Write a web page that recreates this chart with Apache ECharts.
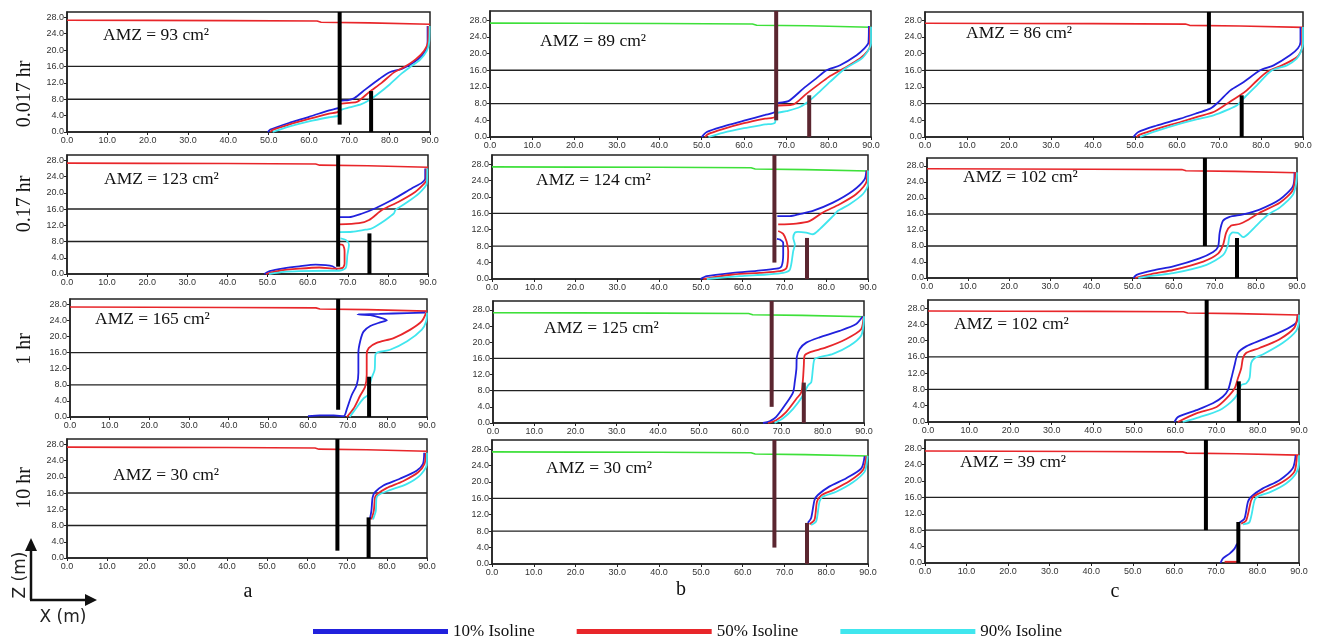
<!DOCTYPE html>
<html><head><meta charset="utf-8">
<script src="https://cdn.jsdelivr.net/npm/echarts@6/dist/echarts.min.js"></script>
<style>html,body{margin:0;padding:0;background:#fff}#c{width:1320px;height:641px}</style>
</head><body><div id="c"></div>
<script>
// ---------- data ----------
const xTicks = [0,10,20,30,40,50,60,70,80,90];
const yTicks = [0,4,8,12,16,20,24,28];
const rowLabels = ['0.017 hr','0.17 hr','1 hr','10 hr'];
const colLabels = ['a','b','c'];
const amzValues = [[93,89,86],[123,124,102],[165,125,102],[30,30,39]];
const layerDepths = [8,16];
const wallX = [67.6, 75.4];
const wall1Bottom = [1.8, 4.0, 8.0];
const wall2Top = 10;
const waterTable = [[0,27.3],[20,27.25],[40,27.2],[62,27.1],[63,26.8],[75,26.65],[90,26.3]];
const isoNames = ['10% Isoline','50% Isoline','90% Isoline'];

// isolines: each is a list of segments
const a1_10 = [[[49.8,0],[50.4,0.6],[55,2.2],[60,3.7],[65,5.3],[67.5,6.0],[67.7,7.6],[69.8,7.8],[71.3,8.3],[74,10.4],[77.5,13],[80,14.6],[83,15.4],[86,17],[88,18.7],[89.2,20.5],[89.4,22.2],[89.4,25.9]]];
const a1_50 = [[[50.4,0],[51,0.5],[55,1.8],[60,3.2],[65,4.5],[67.4,5.0],[67.7,6.8],[70,7.1],[72,7.4],[75,9.8],[78,12],[81,14.5],[83.5,15.8],[86.5,17.8],[88.5,19.8],[89.5,22],[89.6,25.9]]];
const a1_90 = [[[51,0],[55,1.3],[60,2.6],[65,3.6],[67.4,4.0],[67.7,5.3],[70,6.0],[73,6.8],[75,7.8],[77,9.2],[80,11.6],[83,14.3],[85,15.8],[87.5,17.6],[89.2,19.8],[89.8,22],[89.9,25.9]]];

const b1_10 = [[[50,0],[51.2,1.2],[55,2.5],[60,3.9],[65,5.3],[67.3,6.0],[67.6,8],[70.5,8.6],[74,11.6],[77,14],[79.5,16],[82.7,17.2],[86.6,19.6],[88.5,21.3],[89.4,22.6],[89.5,26.6]]];
const b1_50 = [[[50.8,0],[51.5,0.7],[55,1.9],[60,3.3],[65,4.4],[67.3,4.8],[67.6,7.4],[71.7,7.8],[74.8,10.4],[77.5,12.5],[80,14.4],[83.5,16.4],[87.4,18.8],[89.2,20.6],[89.8,22],[89.8,26.4]]];
const b1_90 = [[[51.6,0],[55,1.0],[60,2.1],[65,3.0],[67.3,3.4],[67.6,5.6],[70,6.2],[73.2,7.2],[75.6,8.8],[78,11],[80.3,13.2],[83.9,16.4],[87.8,18.8],[89.5,21],[90,22.5],[90,26.4]]];

const c1_10 = [[[49.6,0],[50.8,1.2],[55,2.7],[60.8,4.4],[65,5.8],[67.9,6.8],[69.9,8.4],[72.7,11.2],[75.9,13.2],[79.8,16],[83,17.2],[86.9,19.6],[88.8,21.3],[89.4,22.8],[89.4,26.4]]];
const c1_50 = [[[50.4,0],[51,0.5],[55,1.9],[60.8,3.6],[65,4.9],[68.7,6],[71.9,8],[75,10],[76.6,11.2],[79,13.5],[81.4,15.6],[85,17.2],[88.6,19.2],[89.8,21.6],[89.8,26.4]]];
const c1_90 = [[[51.2,0],[55,1.4],[60.8,3.2],[65,4.3],[68.7,5.2],[72,6.5],[74.3,7.6],[76.2,9.6],[79,12.4],[82.6,16],[86.2,17.2],[88.5,18.8],[89.5,20.5],[90,22.4],[90,26.4]]];

const a2_10 = [[[49.2,0],[50.5,0.7],[54,1.4],[57.9,1.9],[62,2.3],[64.5,2.2],[66.2,1.9],[67.4,1.1]],[[67.8,14],[70.3,14],[73.6,14.9],[76.9,16.2],[81,18.2],[86,21.1],[88.5,22.5],[89.3,23.5],[89.3,26.0]]];
const a2_50 = [[[49.6,0],[53,0.8],[57.9,1.3],[62.9,1.6],[67,1.3],[68.7,1.5],[69.2,2.5],[69.2,5.5],[69.1,6.4],[68.7,7.2],[67.8,7.3]],[[67.8,12.2],[72.8,12.5],[75.3,13.3],[78.6,15.8],[82.7,17.8],[86.8,20.2],[88.8,22],[89.6,23.1],[89.6,26.0]]];
const a2_90 = [[[50.4,0],[54,0.5],[57.9,0.7],[65.3,0.8],[67.8,0.8],[69.5,1.5],[69.9,4.7],[70.3,7.2],[69.5,8.4],[68.2,8.8]],[[67.8,10.3],[71.1,10.4],[74.4,10.9],[75.7,11.1],[76.9,11.7],[79.4,13.3],[81.5,14.9],[81.9,15.8],[84.4,17.4],[87.7,19.8],[89.7,22.3],[89.8,26.0]]];

const b2_10 = [[[49.9,0],[51.4,0.7],[57.7,1.5],[63.3,2],[68.1,2.5],[69.3,3.1],[69.7,6],[69.7,8.8],[68.9,9.6],[68.2,9.8]],[[68.3,15.3],[71.3,15.3],[73.6,15.8],[76.8,16.6],[81.6,18.6],[86.4,21.5],[89.2,24.3],[89.6,26.4]]];
const b2_50 = [[[50.6,0],[57.7,1.1],[64.1,1.5],[68.9,1.9],[70.5,2.7],[70.9,6.8],[70.5,9.2],[69.7,11],[68.5,11.7]],[[68.5,13.3],[72.8,13.5],[76,14.1],[79.2,16.2],[83.2,18.2],[87.2,20.7],[89.7,23.9],[89.8,26.4]]];
const b2_90 = [[[51.4,0],[59.3,0.7],[65.7,1.1],[69.7,1.5],[71.3,2.3],[72.1,6.8],[72.5,8.4],[72.1,10],[72.5,11.3],[73.2,11.5],[75.2,11.3],[76.8,10.9],[78.4,12.1],[81.6,15.3],[82.8,16.6],[85.6,18.2],[88.8,20.7],[90,23.1],[90,26.4]]];

const c2_10 = [[[50.2,0],[51,0.8],[55,1.9],[59.9,2.9],[66.3,4.9],[69.6,6.5],[70.8,7.8],[71.2,11.4],[72,14.3],[73.6,15.3],[76.9,15.9],[80.9,17.1],[85.8,19.6],[89,22.9],[89.4,26.4]]];
const c2_50 = [[[50.6,0],[55,1.1],[59.9,2],[67.2,4.1],[70.8,6.1],[72,8.2],[72.8,11.4],[74,13.1],[76,13.5],[77.7,14.3],[80.9,16.3],[85.8,18.8],[89,22],[89.6,26.4]]];
const c2_90 = [[[51.4,0],[55,0.6],[59.9,1.2],[68,3.3],[72,5.7],[73.2,8.2],[73.6,10.6],[74.4,11.4],[75.6,11.3],[76.9,10.2],[78.1,11],[80.9,13.9],[83,15.9],[85.8,17.6],[89,20.8],[89.8,23.7],[90,26.4]]];

const a3_10 = [[[60,0.2],[63,0.4],[66.5,0.4],[69,0.2],[69.8,2],[71,5.4],[72.3,8],[72.7,11],[72.7,16],[73.2,19],[74,21.2],[75.7,22.6],[78.2,23.5],[79.9,24],[78.2,24.7],[75.7,25.3],[72.5,25.5],[78,25.6],[85,25.8],[89.6,25.9]]];
const a3_50 = [[[69.8,0],[71.5,2.1],[73.2,5.4],[74.4,7.5],[74.8,10.5],[74.8,15.5],[75.3,17.1],[77.3,18.4],[81.6,19.6],[85.8,21.7],[88.7,23.8],[89.8,25.9]]];
const a3_90 = [[[70.5,0],[72,2],[74,4.6],[75.3,5.6],[75.6,8],[76,9.6],[76.8,11.7],[77,15.5],[77.7,16.1],[80.7,16.7],[85,18.8],[88.7,21.7],[89.8,23.8],[90,25.9]]];

const b3_10 = [[[65.5,0],[67.1,0.4],[68.7,1.5],[71.1,4.8],[72.8,7.6],[73.2,10.1],[73.6,13.4],[73.7,16.3],[74.4,18.3],[76,19.9],[79.2,21.2],[84.1,22.8],[88.1,24.5],[89.7,26.4]]];
const b3_50 = [[[66.7,0],[68.7,0.7],[71.1,2.7],[73.6,6],[74.8,7.6],[75.2,10.9],[75.4,14.2],[75.6,16.7],[76.8,17.5],[80.8,18.7],[85.7,20.8],[89.3,23.2],[89.9,26.4]]];
const b3_90 = [[[68.3,0],[70.3,1.1],[72.8,3.5],[75.2,6.8],[76.4,9.3],[77.2,10.1],[77.6,13.4],[78,15.8],[79.2,16.3],[82.5,17.1],[86.5,19.1],[89.3,21.6],[89.9,24.5],[90,26.4]]];

const c3_10 = [[[59.8,0],[60.6,1.2],[65.1,2.9],[69.1,4.6],[71.5,6.2],[72.8,7.9],[73.6,10.8],[74.4,14.1],[75.2,17],[77.2,18.6],[81.2,20.3],[86.1,22.4],[89.3,24.4],[89.7,26.4]]];
const c3_50 = [[[60.6,0],[65.1,2.1],[70,3.7],[72.4,5.8],[74.4,8.3],[75.2,10.8],[76,13.3],[76.4,15.7],[77.2,17],[80.4,18.2],[85.2,20.3],[88.9,23.2],[89.7,26.4]]];
const c3_90 = [[[61.8,0],[65.9,1.2],[70.7,2.9],[73.6,5],[75.2,7],[76,9.1],[77.2,9.5],[78,10.8],[78.4,14.5],[79.2,15.7],[81.2,16.6],[86.1,19.5],[89.3,22.4],[90,24.9],[90,26.4]]];

const a4_10 = [[[75.7,9.5],[76.1,11.6],[76.4,14.9],[77,16.2],[79,17.8],[83.2,19.5],[87.4,21.5],[89,23.2],[89.3,25.9]]];
const a4_50 = [[[76.1,9.5],[76.7,11.6],[77,14.9],[77.5,15.7],[79.9,17.2],[84,18.9],[87.8,21.1],[89.4,23.2],[89.7,25.9]]];
const a4_90 = [[[76.5,9.5],[77.2,11.6],[77.4,14.9],[78.2,15.7],[80.7,16.7],[84.9,18.2],[88.2,20.3],[89.9,22.8],[90,25.9]]];

const b4_10 = [[[75.6,10],[76.4,11.2],[77.2,15.6],[78,16.8],[80.8,18.9],[84.8,20.9],[88.4,23.3],[89.2,26.3]]];
const b4_50 = [[[76,9.7],[77.2,10.8],[77.8,15.2],[78.8,16.7],[81.6,18],[85.6,20.2],[88.8,22.9],[89.6,26.3]]];
const b4_90 = [[[76.4,9.5],[77.6,10.4],[78.4,15.2],[79.2,16.4],[82.4,17.6],[86.4,19.9],[89.2,22.5],[89.8,25.3],[89.9,26.3]]];

const c4_10 = [[[71.1,0],[71.7,1.1],[73.3,2.3],[74.5,3.5],[75.1,4.7]],[[75.7,9.9],[76.9,10.9],[77.7,14.9],[78.5,16.2],[81.3,18.2],[85.3,20.2],[88.5,23.1],[89.2,26.3]]];
const c4_50 = [[[72.1,0.3],[75.3,0.3]],[[76.1,9.6],[77.3,10.4],[78.5,15.3],[79.3,16.4],[82.1,17.8],[86.1,19.8],[88.9,22.3],[89.5,26.3]]];
const c4_90 = [[[76.5,9.4],[78.1,10],[79.3,15.3],[80.1,16.2],[83.3,17.4],[86.9,19.4],[89.3,21.9],[90,24.7],[90,26.3]]];

const isolines = [
  [[a1_10,a1_50,a1_90],[b1_10,b1_50,b1_90],[c1_10,c1_50,c1_90]],
  [[a2_10,a2_50,a2_90],[b2_10,b2_50,b2_90],[c2_10,c2_50,c2_90]],
  [[a3_10,a3_50,a3_90],[b3_10,b3_50,b3_90],[c3_10,c3_50,c3_90]],
  [[a4_10,a4_50,a4_90],[b4_10,b4_50,b4_90],[c4_10,c4_50,c4_90]]
];

// ---------- layout / style ----------
const cells = [ // [left,right,top,bottom(0)] per row, per column
  [[67,430,12,132],[490,871,11,137],[925,1303,12,137]],
  [[67,428,155,274],[492,868,155,279],[927,1297,158,278]],
  [[70,427,299,417],[493,864,301,423],[928,1299,300,422]],
  [[67,427,439,558],[492,868,440,564],[925,1299,440,563]]
];
const yMaxCol = [29.3, 30.2, 30];
const isoColors = ['#2121dd','#e8262a','#40e6ee'];
const waterColors = ['#e8262a','#3ee03a','#e8262a'];
const wallColors = ['#000000','#5b2630','#000000'];
const amzPos = [
  [[103,35],[540,41],[966,33]],
  [[104,179],[536,180],[963,177]],
  [[95,319],[544,328],[954,324]],
  [[113,475],[546,468],[960,462]]
];
const rowLabelY = [94,204,349,488];
const colLabelPos = [[248,592],[681,590],[1115,592]];

const grids=[], xAxes=[], yAxes=[], series=[], graphics=[];
let gi = 0;
for (let r=0;r<4;r++){
  for (let c=0;c<3;c++){
    const [L,R,T,B] = cells[r][c];
    grids.push({left:L, top:T, width:R-L, height:B-T, show:true, borderColor:'#222', borderWidth:1.5, backgroundColor:'#fff'});
    xAxes.push({gridIndex:gi, type:'value', min:xTicks[0], max:xTicks[xTicks.length-1], interval:10,
      axisLine:{show:true,onZero:false,lineStyle:{color:'#222',width:1.5}},
      axisTick:{show:true,length:3,lineStyle:{color:'#222'}},
      axisLabel:{fontSize:9,fontFamily:'Liberation Sans',color:'#333',margin:4,formatter:v=>v.toFixed(1)},
      splitLine:{show:false}});
    yAxes.push({gridIndex:gi, type:'value', min:0, max:yMaxCol[c], interval:4,
      axisLine:{show:true,lineStyle:{color:'#222',width:1.5}},
      axisTick:{show:true,length:3,lineStyle:{color:'#222'}},
      axisLabel:{fontSize:9,fontFamily:'Liberation Sans',color:'#333',margin:3,showMaxLabel:false,
        formatter:v=> yTicks.indexOf(v)>=0 ? v.toFixed(1) : ''},
      splitLine:{show:false}});
    // layer boundaries
    layerDepths.forEach(d=>{
      series.push({type:'line',xAxisIndex:gi,yAxisIndex:gi,data:[[xTicks[0],d],[xTicks[xTicks.length-1],d]],
        symbol:'none',lineStyle:{color:'#222',width:1.3},z:2,silent:true});
    });
    // water table
    series.push({type:'line',xAxisIndex:gi,yAxisIndex:gi,data:waterTable,symbol:'none',
      lineStyle:{color:waterColors[c],width:1.6},z:3,silent:true});
    // isolines
    isolines[r][c].forEach((segs,k)=>{
      segs.forEach(seg=>{
        series.push({type:'line',name:isoNames[k],xAxisIndex:gi,yAxisIndex:gi,data:seg,symbol:'none',
          smooth:0.25,lineStyle:{color:isoColors[k],width:1.8},itemStyle:{color:isoColors[k]},z:4,silent:true});
      });
    });
    // walls
    series.push({type:'line',xAxisIndex:gi,yAxisIndex:gi,data:[[wallX[0],wall1Bottom[c]],[wallX[0],yMaxCol[c]]],
      symbol:'none',lineStyle:{color:wallColors[c],width:4},z:5,silent:true});
    series.push({type:'line',xAxisIndex:gi,yAxisIndex:gi,data:[[wallX[1],0],[wallX[1],wall2Top]],
      symbol:'none',lineStyle:{color:wallColors[c],width:4},z:5,silent:true});
    // AMZ annotation
    graphics.push({type:'text',x:amzPos[r][c][0],y:amzPos[r][c][1],z:10,
      style:{text:'AMZ = '+amzValues[r][c]+' cm²',font:'17.5px "Liberation Serif"',fill:'#111',textVerticalAlign:'middle'}});
    gi++;
  }
  graphics.push({type:'text',x:25,y:rowLabelY[r],rotation:Math.PI/2,z:10,
    style:{text:rowLabels[r],font:'20px "Liberation Serif"',fill:'#111',textAlign:'center',textVerticalAlign:'middle'}});
}
colLabels.forEach((t,c)=>{
  graphics.push({type:'text',x:colLabelPos[c][0],y:colLabelPos[c][1],z:10,
    style:{text:t,font:'20px "Liberation Serif"',fill:'#111',textAlign:'center',textVerticalAlign:'middle'}});
});
// axis direction glyph
graphics.push({type:'line',shape:{x1:31,y1:600,x2:31,y2:548},style:{stroke:'#111',lineWidth:2.5}});
graphics.push({type:'polygon',shape:{points:[[31,538],[25,551],[37,551]]},style:{fill:'#111'}});
graphics.push({type:'line',shape:{x1:30,y1:600,x2:88,y2:600},style:{stroke:'#111',lineWidth:2.5}});
graphics.push({type:'polygon',shape:{points:[[97,600],[85,594],[85,606]]},style:{fill:'#111'}});
graphics.push({type:'text',x:21,y:575,rotation:Math.PI/2,
  style:{text:'Z (m)',font:'17px "DejaVu Sans"',fill:'#222',textAlign:'center',textVerticalAlign:'middle'}});
graphics.push({type:'text',x:63,y:618,
  style:{text:'X (m)',font:'17px "DejaVu Sans"',fill:'#222',textAlign:'center',textVerticalAlign:'middle'}});

const chart = echarts.init(document.getElementById('c'),null,{renderer:'canvas'});
chart.setOption({
  animation:false,
  backgroundColor:'#fff',
  grid:grids, xAxis:xAxes, yAxis:yAxes, series:series, graphic:graphics,
  legend:{data:isoNames,left:308,top:618,icon:'rect',itemWidth:135,itemHeight:5,itemGap:42,
    selectedMode:false,textStyle:{fontFamily:'Liberation Serif',fontSize:17,color:'#111'}}
});
</script></body></html>
